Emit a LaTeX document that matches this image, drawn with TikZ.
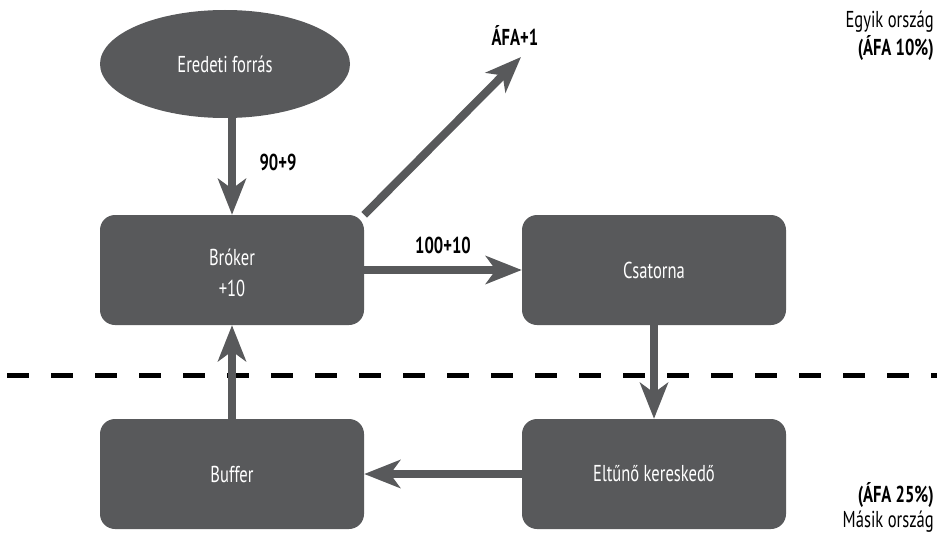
\documentclass[tikz,border=0pt]{standalone}
\usepackage{fontspec}
\setmainfont[FakeStretch=0.72]{PT Sans}
\usetikzlibrary{arrows.meta,shapes.geometric}
\definecolor{boxgray}{HTML}{58595B}

\begin{document}
\begin{tikzpicture}[x=1pt,y=-1pt,
	box_node/.style={rectangle,rounded corners=15pt,fill=boxgray,text=white,minimum width=264pt,minimum height=110pt,inner sep=0pt,align=center,font=\fontsize{23}{31}\selectfont},
	oval_node/.style={ellipse,fill=boxgray,text=white,minimum width=250pt,minimum height=108pt,inner sep=0pt,font=\fontsize{23}{31}\selectfont},
	num_label/.style={font=\fontsize{23}{25}\selectfont\bfseries,inner sep=0pt},
	side_label/.style={anchor=east,font=\fontsize{23}{25}\selectfont,inner sep=0pt},
	flow/.style={draw=boxgray,line width=8pt,-{Stealth[length=36pt,width=28pt,inset=10pt]}}]
	\useasboundingbox (0,0) rectangle (937,535);

	% border between the two countries
	\draw[line width=5pt,dash pattern=on 22pt off 22pt] (7,375) -- (937,375);

	\node[oval_node] (forras) at (225,64){Eredeti forrás};
	\node[box_node] (broker) at (232,270){\strut Bróker\\+10};
	\node[box_node] (csatorna) at (654,270){Csatorna};
	\node[box_node] (buffer) at (232,474){Buffer};
	\node[box_node] (kereskedo) at (654,474){Eltűnő kereskedő};

	\coordinate (afa_tip) at (521,57);
	\node[num_label] (afa) at (515,35){ÁFA+1};
	\node[num_label] (lbl_in) at (278,162){90+9};
	\node[num_label] (lbl_out) at (443,245){100+10};

	\node[side_label] (egyik) at (934,22){Egyik ország};
	\node[side_label] (afa10) at (934,48){\bfseries(ÁFA 10\%)};
	\node[side_label] (afa25) at (934,495){\bfseries(ÁFA 25\%)};
	\node[side_label] (masik) at (934,522){Másik ország};

	\draw[flow] (forras.south -| broker.north) -- (broker.north);
	\draw[flow] (broker.north east) -- (afa_tip);
	\draw[flow] (broker.east |- csatorna) -- (csatorna);
	\draw[flow] (csatorna) -- (kereskedo);
	\draw[flow] (kereskedo) -- (buffer);
	\draw[flow] (buffer) -- (broker.south);
\end{tikzpicture}
\end{document}
